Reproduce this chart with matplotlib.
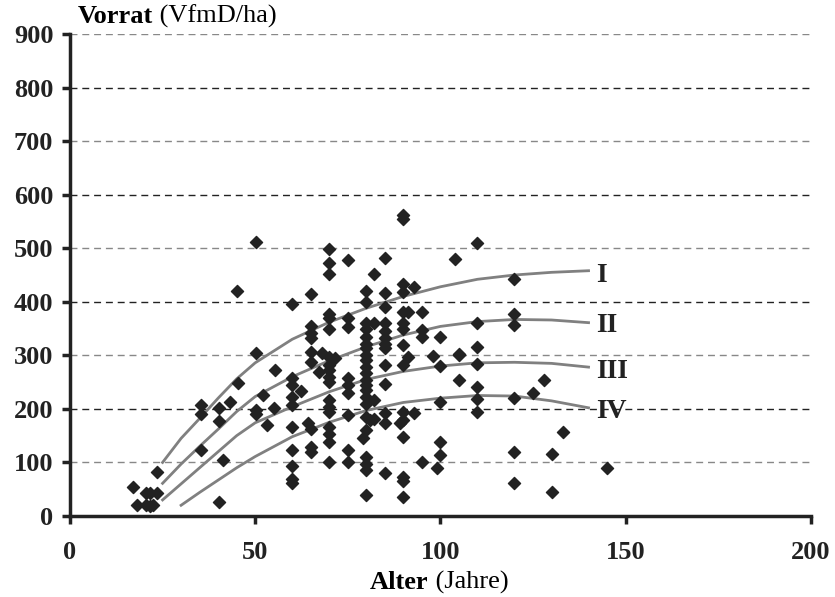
import matplotlib.pyplot as plt

plt.rcParams['font.family'] = ['Liberation Serif', 'DejaVu Serif']

# stand measurements: age (years) and growing stock (VfmD/ha)
alter = [17, 18, 20.5, 21.6, 23.4, 20.5, 21.6, 22.4, 23.4, 35.4, 35.4, 40.3, 43.3, 40.3,
         35.4, 41.2, 40.3, 45.2, 45.4, 50.1, 50.1, 50.1, 50.1,
         70, 75, 70, 85, 70, 82, 80, 85, 65, 80, 60, 85, 70, 70, 75, 75, 70, 65, 65, 65,
         80, 80, 80, 80, 80, 80, 80, 80, 80, 80, 80, 80, 80, 80,
         82, 85, 85, 85, 85, 85,
         65, 65, 68, 70, 71.5, 70, 70, 70, 70, 67.3, 55.3, 60, 60, 62.3, 60, 60, 52.2, 55,
         53.3, 75, 75, 75, 70, 70, 70, 75, 82, 80, 81, 80, 79, 82, 85, 85, 60, 64.3, 65,
         70, 70, 70, 65, 65, 60, 75, 60, 60, 60, 70, 75, 80, 80, 80, 85, 80,
         110, 104, 90, 90, 93, 90, 91.3, 95, 90, 90, 95, 95, 100, 90, 110, 110, 91.3, 98,
         105, 105, 90, 85, 100, 110, 85, 105, 110, 110, 100, 110, 90, 93, 90, 89, 90, 100,
         100, 95, 99, 90, 90, 90, 90, 90,
         120, 120, 120, 128, 125, 120, 133, 120, 130, 145, 120, 130]
vorrat = [55, 20, 42, 42, 42, 20, 18, 20, 82, 207, 190, 202, 212, 177,
          124, 105, 26, 421, 248, 511, 305, 198, 190,
          498, 478, 472, 481, 451, 451, 421, 417, 414, 400, 395, 391, 378, 369, 369, 353, 349,
          355, 341, 332,
          360, 349, 335, 322, 313, 301, 291, 279, 267, 254, 244, 235, 223, 210,
          360, 360, 345, 332, 322, 313,
          307, 288, 305, 297, 295, 282, 273, 260, 251, 269, 273, 257, 245, 234, 223, 207, 226,
          201, 170, 257, 245, 229, 217, 204, 195, 189, 217, 185, 179, 160, 145, 181, 193, 174,
          167, 174, 162, 167, 154, 139, 129, 120, 124, 124, 93, 70, 61, 101, 101, 111, 98, 86,
          81, 39,
          509, 479, 434, 419, 427, 381, 381, 380, 360, 350, 347, 334, 334, 319, 360, 315, 297,
          299, 300, 303, 282, 282, 280, 283, 246, 254, 241, 218, 213, 195, 195, 193, 180, 173,
          148, 139, 114, 101, 89, 73, 66, 35, 562, 555,
          442, 378, 357, 254, 230, 220, 156, 120, 115, 89, 61, 45]

# yield class curves I-IV
kurven = {
    'I': ([25, 30, 35, 40, 45, 50, 60, 70, 80, 90, 100, 110, 120, 130, 140],
          [100, 145, 182, 220, 256, 286, 330, 362, 388, 410, 428, 442, 450, 455, 458]),
    'II': ([25, 30, 35, 40, 45, 50, 60, 70, 80, 90, 100, 110, 120, 130, 140],
           [61, 97, 130, 162, 195, 223, 260, 290, 316, 338, 354, 363, 367, 366, 361]),
    'III': ([25, 30, 35, 40, 45, 50, 60, 70, 80, 90, 100, 110, 120, 130, 140],
            [30, 60, 90, 120, 150, 174, 204, 232, 255, 270, 280, 286, 287, 285, 278]),
    'IV': ([30, 35, 40, 45, 50, 60, 70, 80, 90, 100, 110, 120, 130, 140],
           [20, 44, 67, 90, 111, 148, 175, 197, 212, 220, 225, 224, 215, 202]),
}
label_y = {'I': 450, 'II': 355, 'III': 269, 'IV': 196}

fig = plt.figure(figsize=(8.35, 5.97), dpi=100)
ax = fig.add_axes([0.0838, 0.1357, 0.8872, 0.8073])

for i, y in enumerate(range(100, 1000, 100)):
    ax.axhline(y, color='#888888' if i % 2 == 0 else '#222222', lw=1,
               dashes=(5, 3.5), zorder=1)

for name, (xs, ys) in kurven.items():
    ax.plot(xs, ys, color='#808080', lw=2, zorder=2)
    ax.text(142, label_y[name], name, fontsize=20, fontweight='bold',
            ha='left', va='center', color='#222222', zorder=3)

ax.scatter(alter, vorrat, marker='D', s=38, color='#222222', zorder=4)

ax.set_xlim(0, 200)
ax.set_ylim(0, 900)
ax.set_xticks([0, 50, 100, 150, 200])
ax.set_yticks(range(0, 1000, 100))
for s in ['top', 'right']:
    ax.spines[s].set_visible(False)
for s in ['left', 'bottom']:
    ax.spines[s].set_linewidth(2.5)
    ax.spines[s].set_color('#222222')
ax.tick_params(direction='out', length=6, width=2.5, colors='#222222', labelsize=19)
ax.tick_params(axis='x', pad=12)
ax.tick_params(axis='y', pad=6)
for lab in ax.get_xticklabels() + ax.get_yticklabels():
    lab.set_fontweight('bold')

# axis titles: bold name followed by the unit in regular weight
t1 = fig.text(0.093, 0.962, 'Vorrat', fontsize=19, fontweight='bold', va='baseline')
ax.annotate(' (VfmD/ha)', xy=(1, 0), xycoords=t1, fontsize=19, va='bottom')
t2 = fig.text(0.443, 0.014, 'Alter', fontsize=19, fontweight='bold', va='baseline')
ax.annotate(' (Jahre)', xy=(1, 0), xycoords=t2, fontsize=19, va='bottom')

fig.savefig('out.png', dpi=100)
